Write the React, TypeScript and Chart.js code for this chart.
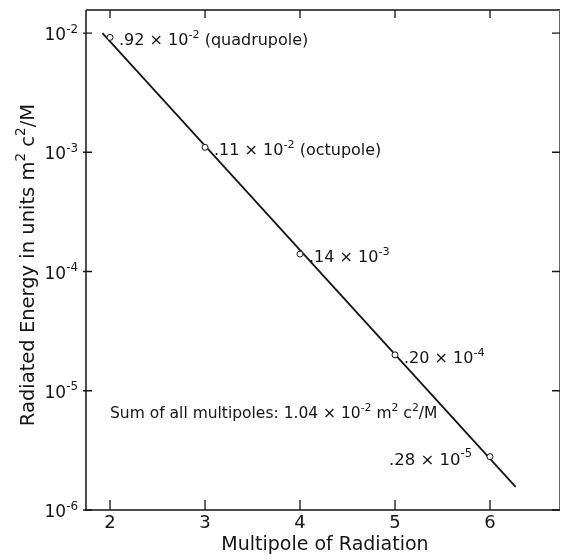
import React, { useEffect, useRef } from "react";
import { Chart, registerables } from "chart.js";

Chart.register(...registerables);

// ---- data ----
const multipoles = [2, 3, 4, 5, 6];
const energies = [0.92e-2, 0.11e-2, 0.14e-3, 0.2e-4, 0.28e-5];
const pointLabels = [
  ".92 × 10^{-2} (quadrupole)",
  ".11 × 10^{-2} (octupole)",
  ".14 × 10^{-3}",
  ".20 × 10^{-4}",
  ".28 × 10^{-5}",
];
const fitLineX = [1.92, 6.27];
const fitLineY = [1.0e-2, 1.56e-6];
const xTicks = [2, 3, 4, 5, 6];
const xTickLabels = ["2", "3", "4", "5", "6"];
const yTicks = [1e-6, 1e-5, 1e-4, 1e-3, 1e-2];
const yTickLabels = ["10^{-6}", "10^{-5}", "10^{-4}", "10^{-3}", "10^{-2}"];
const xTitle = "Multipole of Radiation";
const yTitle = "Radiated Energy in units m^{2} c^{2}/M";
const sumNote = "Sum of all multipoles: 1.04 × 10^{-2} m^{2} c^{2}/M";
const sumNoteX = 2;
const sumNoteY = 6.6e-6;

const FONT = '"DejaVu Sans", "Liberation Sans", sans-serif';
const INK = "#141414";

type Seg = { t: string; sup: boolean };
function parseRich(s: string): Seg[] {
  const segs: Seg[] = [];
  const re = /\^\{([^}]*)\}/g;
  let last = 0;
  let m: RegExpExecArray | null;
  while ((m = re.exec(s))) {
    if (m.index > last) segs.push({ t: s.slice(last, m.index), sup: false });
    segs.push({ t: m[1], sup: true });
    last = re.lastIndex;
  }
  if (last < s.length) segs.push({ t: s.slice(last), sup: false });
  return segs;
}

// draws text whose main glyphs are vertically centred on y
function drawRich(
  ctx: CanvasRenderingContext2D,
  s: string,
  x: number,
  y: number,
  size: number,
  align: "left" | "right" | "center"
) {
  const segs = parseRich(s);
  const supSize = size * 0.7;
  const widths = segs.map((sg) => {
    ctx.font = `${sg.sup ? supSize : size}px ${FONT}`;
    return ctx.measureText(sg.t).width;
  });
  const total = widths.reduce((a, b) => a + b, 0);
  let cx = align === "left" ? x : align === "right" ? x - total : x - total / 2;
  const base = y + size * 0.365;
  ctx.textAlign = "left";
  ctx.textBaseline = "alphabetic";
  ctx.fillStyle = INK;
  segs.forEach((sg, i) => {
    ctx.font = `${sg.sup ? supSize : size}px ${FONT}`;
    ctx.fillText(sg.t, cx, sg.sup ? base - size * 0.45 : base);
    cx += widths[i];
  });
}

const decorPlugin = {
  id: "decor",
  afterDraw(chart: any) {
    const ctx: CanvasRenderingContext2D = chart.ctx;
    const { left, right, top, bottom } = chart.chartArea;
    const xs = chart.scales.x;
    const ys = chart.scales.y;
    ctx.save();
    // frame
    ctx.strokeStyle = INK;
    ctx.lineWidth = 1.5;
    ctx.beginPath();
    ctx.moveTo(left, top);
    ctx.lineTo(left, bottom);
    ctx.lineTo(right, bottom);
    ctx.moveTo(left, top);
    ctx.lineTo(right, top);
    ctx.stroke();
    ctx.lineWidth = 1;
    ctx.strokeStyle = "#666";
    ctx.beginPath();
    ctx.moveTo(right - 0.5, top);
    ctx.lineTo(right - 0.5, bottom);
    ctx.stroke();

    // ticks (inward)
    ctx.strokeStyle = INK;
    ctx.lineWidth = 1.3;
    ctx.beginPath();
    xTicks.forEach((v) => {
      const px = xs.getPixelForValue(v);
      ctx.moveTo(px, bottom);
      ctx.lineTo(px, bottom - 10);
      ctx.moveTo(px, top);
      ctx.lineTo(px, top + 8);
    });
    yTicks.forEach((v) => {
      const py = ys.getPixelForValue(v);
      ctx.moveTo(left - 3, py);
      ctx.lineTo(left + 6, py);
      ctx.moveTo(right, py);
      ctx.lineTo(right - 8, py);
    });
    ctx.stroke();

    // tick labels
    xTicks.forEach((v, i) => {
      drawRich(ctx, xTickLabels[i], xs.getPixelForValue(v), bottom + 11, 18, "center");
    });
    yTicks.forEach((v, i) => {
      drawRich(ctx, yTickLabels[i], left - 8, ys.getPixelForValue(v) + 1, 17, "right");
    });

    // axis titles
    drawRich(ctx, xTitle, (left + right) / 2 + 2, bottom + 33, 19, "center");
    ctx.save();
    ctx.translate(27, top + (bottom - top) / 2 + 5);
    ctx.rotate(-Math.PI / 2);
    drawRich(ctx, yTitle, 0, 0, 19.5, "center");
    ctx.restore();

    // point labels
    multipoles.forEach((m, i) => {
      const px = xs.getPixelForValue(m);
      const py = ys.getPixelForValue(energies[i]);
      if (i === multipoles.length - 1) {
        drawRich(ctx, pointLabels[i], px - 18, py + 2, 16.5, "right");
      } else {
        drawRich(ctx, pointLabels[i], px + 9, py + 2, 16, "left");
      }
    });

    // sum note
    drawRich(ctx, sumNote, xs.getPixelForValue(sumNoteX), ys.getPixelForValue(sumNoteY), 15.5, "left");
    ctx.restore();
  },
};

export default function App() {
  const ref = useRef<HTMLCanvasElement | null>(null);
  useEffect(() => {
    if (!ref.current) return;
    const chart = new Chart(ref.current, {
      type: "scatter",
      data: {
        datasets: [
          {
            label: "computed",
            data: multipoles.map((m, i) => ({ x: m, y: energies[i] })),
            showLine: false,
            pointStyle: "circle",
            pointRadius: 3,
            pointBorderWidth: 1,
            pointBackgroundColor: "#ffffff",
            pointBorderColor: INK,
          },
          {
            label: "fit",
            data: fitLineX.map((x, i) => ({ x, y: fitLineY[i] })),
            showLine: true,
            borderColor: INK,
            borderWidth: 1.8,
            pointRadius: 0,
            fill: false,
          },
        ],
      },
      options: {
        responsive: false,
        animation: false,
        devicePixelRatio: 1,
        layout: { autoPadding: false, padding: { left: 86, top: 10, right: 1, bottom: 49 } },
        plugins: {
          legend: { display: false },
          tooltip: { enabled: false },
          title: { display: false },
        },
        scales: {
          x: {
            type: "linear",
            display: false,
            min: 1.747,
            max: 6.737,
            grid: { display: false, drawTicks: false },
          },
          y: {
            type: "logarithmic",
            display: false,
            min: 1e-6,
            max: 0.0156,
            grid: { display: false, drawTicks: false },
          },
        },
      },
      plugins: [decorPlugin],
    });
    return () => chart.destroy();
  }, []);
  return (
    <div style={{ position: "absolute", left: 0, top: 0, width: 561, height: 559 }}>
      <canvas ref={ref} width={561} height={559} style={{ display: "block" }} />
    </div>
  );
}
